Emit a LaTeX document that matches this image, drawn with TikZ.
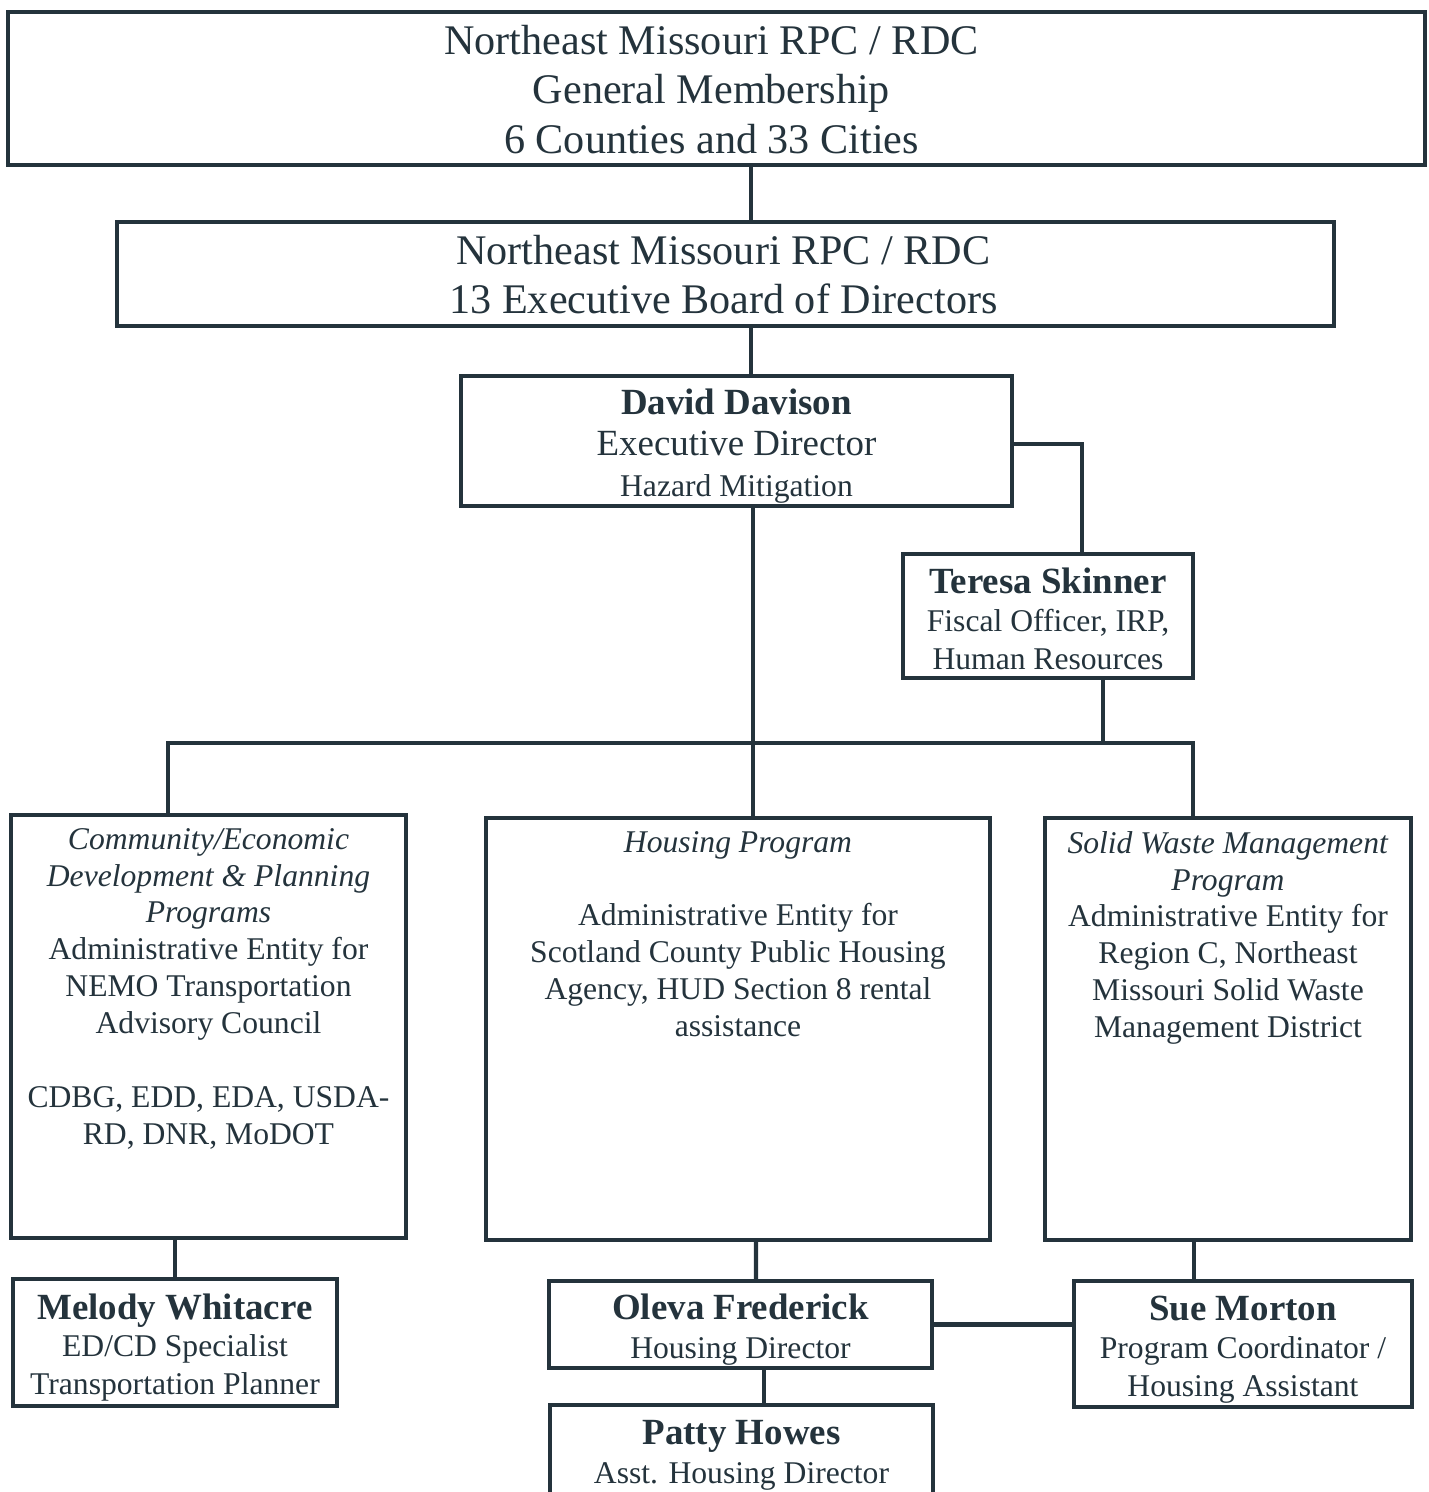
\documentclass[tikz,border=0pt]{standalone}
\usepackage{fontspec}
\setmainfont{Liberation Serif}
\usetikzlibrary{positioning,calc}
\definecolor{chartink}{HTML}{24333C}
\newlength\pu
\setlength\pu{0.02cm}
\tikzset{
  box/.style={draw, line width=2.3pt, inner sep=0pt},
  txt/.style={align=center, inner sep=0pt},
  bigtext/.style={txt, font=\fontsize{24}{28.3}\selectfont},
  person/.style={txt, font=\fontsize{18}{21.5}\selectfont},
  depttext/.style={txt, font=\fontsize{18}{21}\selectfont},
}
\newcommand{\pname}[1]{{\fontsize{21}{22}\selectfont\bfseries #1}}
\begin{document}
\begin{tikzpicture}[x=0.02cm, y=-0.02cm, line width=2.3pt, color=chartink]
\useasboundingbox (0,0) rectangle (1429,1492);
% frames
\node[box, minimum width=1417\pu, minimum height=153\pu] (gm) at (716.5,88.5) {};
\node[box, minimum width=1217\pu, minimum height=104\pu] (eb) at (725.5,274) {};
\node[box, minimum width=551\pu, minimum height=130\pu] (dd) at (736.5,441) {};
\node[box, minimum width=290\pu, minimum height=124\pu] (ts) at (1048,616) {};
\node[box, minimum width=395\pu, minimum height=423\pu] (cde) at (208.5,1026.5) {};
\node[box, minimum width=504\pu, minimum height=422\pu] (hp) at (738,1029) {};
\node[box, minimum width=366\pu, minimum height=422\pu] (swm) at (1228,1029) {};
\node[box, minimum width=324\pu, minimum height=127\pu] (mw) at (175,1342.5) {};
\node[box, minimum width=383\pu, minimum height=87\pu] (of) at (740.5,1324.5) {};
\node[box, minimum width=338\pu, minimum height=126\pu] (sm) at (1243,1344) {};
\node[box, minimum width=383\pu, minimum height=94\pu] (ph) at (741.5,1452) {};
% texts
\node[bigtext] (gmtext) at ($(gm)+(-5,1)$)
  {Northeast Missouri RPC / RDC\\ General Membership\\ 6 Counties and 33 Cities};
\node[bigtext] (ebtext) at ($(eb)+(-2,0.5)$)
  {Northeast Missouri RPC / RDC\\ 13 Executive Board of Directors};
\node[txt, font=\fontsize{21}{23.5}\selectfont] (ddtext) at ($(dd)+(0,5)$)
  {\pname{David Davison}\\ Executive Director\\ {\fontsize{18}{22}\selectfont Hazard Mitigation}};
\node[person] (tstext) at ($(ts)+(0,3)$)
  {\pname{Teresa Skinner}\\ Fiscal Officer, IRP,\\ Human Resources};
\node[depttext, below=7.5pt of cde.north] (cdetext)
  {\textit{Community/Economic}\\ \textit{Development \& Planning}\\ \textit{Programs}\\
   Administrative Entity for\\ NEMO Transportation\\ Advisory Council\\[21pt]
   CDBG, EDD, EDA, USDA-\\ RD, DNR, MoDOT};
\node[depttext, below=7.5pt of hp.north] (hptext)
  {\textit{Housing Program}\\[21pt] Administrative Entity for\\ Scotland County Public Housing\\
   Agency, HUD Section 8 rental\\ assistance};
\node[depttext, below=7.5pt of swm.north] (swmtext)
  {\textit{Solid Waste Management}\\ \textit{Program}\\ Administrative Entity for\\
   Region C, Northeast\\ Missouri Solid Waste\\ Management District};
\node[person] (mwtext) at ($(mw)+(0,5)$)
  {\pname{Melody Whitacre}\\ ED/CD Specialist\\ Transportation Planner};
\node[person, font=\fontsize{18}{22.5}\selectfont] (oftext) at ($(of)+(0,5)$)
  {\pname{Oleva Frederick}\\ Housing Director};
\node[person] (smtext) at ($(sm)+(0,5.5)$)
  {\pname{Sue Morton}\\ Program Coordinator /\\ Housing Assistant};
\node[person, font=\fontsize{18}{22.5}\selectfont] (phtext) at ($(ph)+(0,3.5)$)
  {\pname{Patty Howes}\\ Asst. Housing Director};
% connectors
\coordinate (trunk) at (751,0);
\coordinate (trunklow) at (753,0);
\coordinate (busl) at (168,743);
\coordinate (busr) at (1193,743);
\coordinate (tsdrop) at ($(ts.south)+(55,0)$);
\draw (gm.south -| trunk) -- (eb.north -| trunk);
\draw (eb.south -| trunk) -- (dd.north -| trunk);
\draw (dd.south -| trunklow) -- (hp.north -| trunklow);
\draw ($(dd.east)+(0,3)$) -| ($(ts.north)+(34,0)$);
\draw (tsdrop) -- (tsdrop |- busr);
\draw (cde.north -| busl) -- (busl) -- (busr) -- (swm.north -| busr);
\draw (mw.north |- cde.south) -- (mw.north);
\draw ($(hp.south)+(18,0)$) -- ($(of.north)+(15.5,0)$);
\draw ($(of.south)+(23.5,0)$) -- ($(ph.north)+(22.5,0)$);
\draw ($(swm.south)+(-34,0)$) -- ($(sm.north)+(-49,0)$);
\draw (of.east) -- (of.east -| sm.west);
\end{tikzpicture}
\end{document}
